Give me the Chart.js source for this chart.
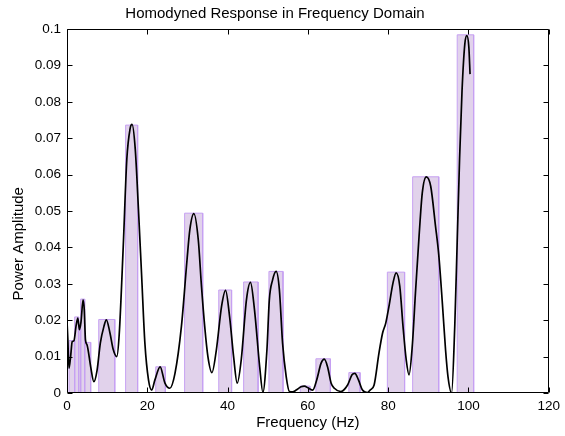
<!DOCTYPE html>
<html>
<head>
<meta charset="utf-8">
<title>Homodyned Response in Frequency Domain</title>
<script src="https://cdn.jsdelivr.net/npm/chart.js@4.4.0/dist/chart.umd.min.js"></script>
<style>
  html, body { margin: 0; padding: 0; background: #fff; }
  #wrap { width: 565px; height: 436px; }
</style>
</head>
<body>
<div id="wrap"><canvas id="spectrum" width="565" height="436"></canvas></div>
<script>
// bins (Hz) and their heights
const binStart  = [0.5, 1.9, 2.9, 3.4, 4.4, 7.9, 14.6, 22.1, 29.3, 37.8, 44.0, 50.3, 58.1, 62.0, 70.2, 79.8, 86.1, 97.2];
const binEnd    = [1.9, 2.9, 3.4, 4.4, 5.9, 11.9, 17.6, 24.5, 33.8, 41.0, 47.6, 53.8, 60.5, 65.6, 73.0, 84.1, 92.6, 101.3];
const binHeight = [0.0144, 0.0209, 0.0175, 0.0258, 0.0139, 0.0202, 0.0736, 0.0072, 0.0494, 0.0283, 0.0305, 0.0334, 0.0019, 0.0094, 0.0056, 0.0332, 0.0594, 0.0984];

// smooth response curve
const curveFreq = [0, 0.2, 0.5, 0.9, 1.3, 1.7, 2.3, 2.7, 3.1, 3.5, 4.0, 4.3, 4.6, 5.0, 5.9, 6.7, 7.5, 8.3, 9.2, 9.8,
  10.7, 11.5, 12.4, 13.0, 14.0, 14.9, 15.7, 16.2, 17.0, 17.8, 18.6, 19.4, 20.3, 21.1, 21.9, 23.2, 24.4, 25.6, 26.9, 28.5,
  29.9, 30.6, 31.6, 32.7, 33.5, 34.3, 35.1, 36.1, 37.2, 38.5, 39.5, 40.5, 41.5, 42.4, 43.4, 44.7, 45.7, 46.7, 48.0, 48.8,
  49.8, 50.4, 51.2, 52.1, 52.9, 53.7, 54.6, 55.4, 56.2, 57.1, 58.3, 59.1, 60.2, 61.2, 62.2, 63.3, 64.1, 64.9, 65.8, 66.6,
  68.2, 69.9, 71.0, 71.7, 72.6, 73.6, 74.8, 75.5, 76.5, 77.7, 78.6, 79.4, 80.2, 81.2, 82.0, 82.9, 83.7, 84.5, 85.2, 86.0,
  86.8, 87.7, 88.5, 89.5, 90.6, 91.8, 92.6, 93.5, 94.3, 94.9, 95.8, 96.6, 97.2, 97.8, 98.4, 99.1, 99.6, 100.1, 100.4];
const curveAmp = [0.0196, 0.0150, 0.0068, 0.0100, 0.0141, 0.0143, 0.0187, 0.0206, 0.0174, 0.0196, 0.0256, 0.0229, 0.0146, 0.0132, 0.0072, 0.0031, 0.0063, 0.0137, 0.0183, 0.0201,
  0.0165, 0.0120, 0.0100, 0.0160, 0.0400, 0.0642, 0.0725, 0.0738, 0.0670, 0.0504, 0.0320, 0.0137, 0.0036, 0.0008, 0.0036, 0.0072, 0.0027, 0.0013, 0.0054, 0.0183,
  0.0366, 0.0449, 0.0493, 0.0421, 0.0293, 0.0183, 0.0100, 0.0056, 0.0118, 0.0238, 0.0282, 0.0210, 0.0100, 0.0027, 0.0091, 0.0256, 0.0304, 0.0229, 0.0072, 0.0002,
  0.0118, 0.0256, 0.0310, 0.0334, 0.0284, 0.0137, 0.0045, 0.0004, 0.0003, 0.0008, 0.0017, 0.0019, 0.0013, 0.0008, 0.0036, 0.0082, 0.0093, 0.0072, 0.0027, 0.0013,
  0.0004, 0.0022, 0.0050, 0.0054, 0.0036, 0.0008, 0.0001, 0.0008, 0.0022, 0.0109, 0.0164, 0.0192, 0.0238, 0.0302, 0.0330, 0.0293, 0.0183, 0.0091, 0.0050, 0.0128,
  0.0275, 0.0431, 0.0550, 0.0594, 0.0568, 0.0458, 0.0380, 0.0247, 0.0118, 0.0045, 0.0000, 0.0187, 0.0417, 0.0647, 0.0830, 0.0959, 0.0982, 0.0950, 0.0876];

const xTicks = [0, 20, 40, 60, 80, 100, 120];
const yTicks = [0, 0.01, 0.02, 0.03, 0.04, 0.05, 0.06, 0.07, 0.08, 0.09, 0.1];

const FONT = "'Liberation Sans', Arial, sans-serif";

// each bin is drawn as a filled rectangle outline
const binSets = binStart.map((x0, i) => ({
    data: [{x: x0, y: 0}, {x: x0, y: binHeight[i]}, {x: binEnd[i], y: binHeight[i]}, {x: binEnd[i], y: 0}],
    borderColor: "rgb(198,160,242)",
    backgroundColor: "rgb(225,210,235)",
    borderWidth: 1,
    fill: "origin",
    pointRadius: 0,
    tension: 0,
    order: 2,
}));

const curveSet = {
    data: curveFreq.map((f, i) => ({x: f, y: curveAmp[i]})),
    borderColor: "#000",
    borderWidth: 1.7,
    pointRadius: 0,
    fill: false,
    cubicInterpolationMode: "monotone",
    order: 1,
};

// matlab style box with inward ticks, plus the y label (sits a bit below centre)
const boxPlugin = {
    id: "box",
    afterDatasetsDraw(chart) {
        const {ctx, chartArea: a, scales} = chart;
        const L = Math.round(a.left) + 0.5, R = Math.round(a.right) - 0.5;
        const T = Math.round(a.top) + 0.5, B = Math.round(a.bottom) - 0.5;
        ctx.save();
        ctx.strokeStyle = "#000";
        ctx.lineWidth = 1;
        ctx.beginPath();
        ctx.moveTo(L, T); ctx.lineTo(R, T); ctx.lineTo(R, B); ctx.lineTo(L, B); ctx.closePath();
        xTicks.forEach(v => {
            const px = Math.round(scales.x.getPixelForValue(v)) + 0.5;
            ctx.moveTo(px, B); ctx.lineTo(px, B - 5);
            ctx.moveTo(px, T); ctx.lineTo(px, T + 5);
        });
        yTicks.forEach(v => {
            const py = Math.round(scales.y.getPixelForValue(v)) + 0.5;
            ctx.moveTo(L, py); ctx.lineTo(L + 5, py);
            ctx.moveTo(R, py); ctx.lineTo(R - 5, py);
        });
        ctx.stroke();

        ctx.translate(19, scales.y.getPixelForValue(0.041));
        ctx.rotate(-Math.PI / 2);
        ctx.fillStyle = "#000";
        ctx.font = "15px " + FONT;
        ctx.textAlign = "center";
        ctx.textBaseline = "middle";
        ctx.fillText("Power Amplitude", 0, 0);
        ctx.restore();
    }
};

new Chart(document.getElementById("spectrum"), {
    type: "line",
    data: { datasets: [curveSet, ...binSets] },
    plugins: [boxPlugin],
    options: {
        responsive: false,
        animation: false,
        devicePixelRatio: 1,
        layout: { padding: { left: 0, right: 15, top: 0, bottom: 0 } },
        plugins: {
            legend: { display: false },
            tooltip: { enabled: false },
            title: {
                display: true,
                text: "Homodyned Response in Frequency Domain",
                color: "#000",
                font: { family: FONT, size: 15, weight: "normal" },
                padding: { top: 5, bottom: 6 },
            },
        },
        scales: {
            x: {
                type: "linear",
                min: 0, max: 120,
                grid: { display: false, drawTicks: false },
                border: { display: false },
                afterBuildTicks: s => { s.ticks = xTicks.map(v => ({value: v})); },
                afterFit: s => { s.height = 43; },
                ticks: { color: "#000", padding: 5, maxRotation: 0, font: { family: FONT, size: 13.5 } },
                title: {
                    display: true, text: "Frequency (Hz)", color: "#000",
                    font: { family: FONT, size: 15 }, padding: { top: 0, bottom: 4 },
                },
            },
            y: {
                type: "linear",
                min: 0, max: 0.1,
                grid: { display: false, drawTicks: false },
                border: { display: false },
                afterBuildTicks: s => { s.ticks = yTicks.map(v => ({value: v})); },
                afterFit: s => { s.width = 67; },
                ticks: {
                    color: "#000", padding: 6, font: { family: FONT, size: 13.5 },
                    callback: v => String(+v.toFixed(2)),
                },
            },
        },
    },
});
</script>
</body>
</html>
